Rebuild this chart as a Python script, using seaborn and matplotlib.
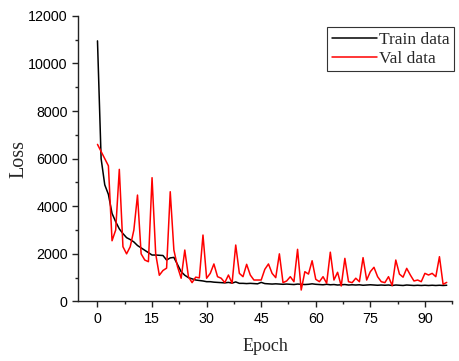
import numpy as np
import pandas as pd
import seaborn as sns
import matplotlib.pyplot as plt
from matplotlib.ticker import MultipleLocator

# loss values
train_loss = [10950, 6000, 4900, 4500, 3700, 3350, 3050, 2850, 2680, 2600,
              2500, 2350, 2250, 2150, 2050, 1950, 1950, 1940, 1930, 1740,
              1830, 1850, 1550, 1250, 1100, 1000, 950, 900, 880, 860,
              830, 830, 810, 800, 790, 780, 800, 770, 820, 760,
              760, 750, 760, 750, 740, 800, 750, 740, 730, 740,
              730, 720, 730, 720, 710, 730, 720, 710, 720, 740,
              720, 710, 700, 720, 700, 710, 690, 700, 710, 690,
              700, 690, 700, 680, 690, 700, 690, 680, 690, 680,
              690, 670, 690, 680, 670, 690, 680, 670, 680, 670,
              680, 670, 680, 670, 680, 670, 680]
val_loss = [6600, 6300, 6000, 5700, 2550, 3000, 5550, 2300, 2000, 2300,
            3000, 4470, 2000, 1740, 1670, 5200, 2000, 1100, 1300, 1400,
            4610, 2160, 1460, 975, 2160, 1040, 790, 1020, 990, 2790,
            975, 1180, 1575, 1040, 975, 790, 1110, 765, 2370, 1180,
            1040, 1560, 1110, 900, 900, 900, 1350, 1575, 1180, 1000,
            2000, 790, 860, 1040, 830, 2190, 480, 1250, 1150, 1710,
            930, 830, 1040, 765, 2070, 900, 1225, 650, 1810, 830,
            790, 975, 830, 1840, 900, 1250, 1435, 1040, 830, 790,
            1040, 665, 1740, 1150, 1020, 1390, 1110, 860, 900, 830,
            1180, 1110, 1180, 1040, 1880, 720, 800]
epochs = list(range(len(train_loss)))

df = pd.DataFrame({
    "Epoch": epochs * 2,
    "Loss": train_loss + val_loss,
    "set": ["Train data"] * len(epochs) + ["Val data"] * len(epochs),
})

sns.set_style("ticks")
plt.rcParams['font.family'] = ['Liberation Sans', 'DejaVu Sans']

fig = plt.figure(figsize=(4.6, 3.61), dpi=100)
ax = fig.add_axes([0.170, 0.165, 0.813, 0.791])

sns.lineplot(data=df, x="Epoch", y="Loss", hue="set",
             palette={"Train data": "black", "Val data": "#ff0000"},
             linewidth=1.1, ax=ax)

ax.set_xlim(-5.3, 97.5)
ax.set_ylim(0, 12000)
ax.xaxis.set_major_locator(MultipleLocator(15))
ax.xaxis.set_minor_locator(MultipleLocator(7.5))
ax.yaxis.set_major_locator(MultipleLocator(2000))
ax.yaxis.set_minor_locator(MultipleLocator(1000))
ax.tick_params(which="major", direction="out", length=4, width=1, labelsize=10.3, colors="#222222")
ax.tick_params(which="minor", direction="out", length=2.5, width=1, colors="#222222")
ax.tick_params(axis="both", labelcolor="black")

for side in ["top", "right"]:
    ax.spines[side].set_visible(False)
for side in ["left", "bottom"]:
    ax.spines[side].set_color("#222222")
    ax.spines[side].set_linewidth(1)

ax.set_xlabel("Epoch", family=["Liberation Serif"], fontsize=13, labelpad=9)
ax.set_ylabel("Loss", family=["Liberation Serif"], fontsize=14.5, labelpad=0)

leg = ax.legend(loc="upper right", bbox_to_anchor=(1.013, 0.972), frameon=True,
                fancybox=False, edgecolor="#333333", framealpha=1,
                handlelength=2.6, handletextpad=0.1, borderpad=0.25,
                labelspacing=0.15, borderaxespad=0.2,
                prop={"family": "Liberation Serif", "size": 12.5})
leg.get_frame().set_linewidth(0.8)

fig.savefig("out.png", dpi=100)
